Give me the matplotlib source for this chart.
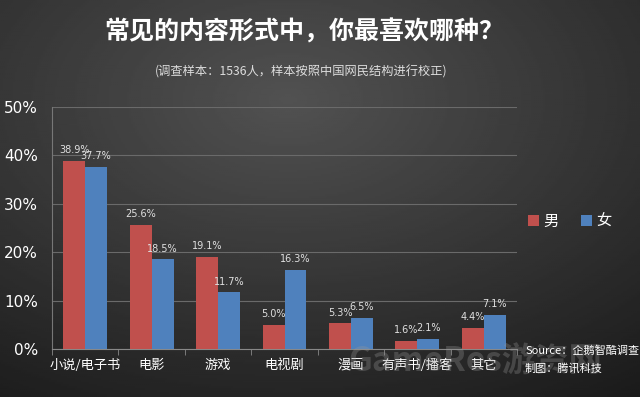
import numpy as np
import matplotlib.pyplot as plt

plt.rcParams['font.family'] = ['Noto Sans CJK SC', 'DejaVu Sans']

categories = ["小说/电子书", "电影", "游戏", "电视剧", "漫画", "有声书/播客", "其它"]
male = [38.9, 25.6, 19.1, 5.0, 5.3, 1.6, 4.4]
female = [37.7, 18.5, 11.7, 16.3, 6.5, 2.1, 7.1]
yticks = [0, 10, 20, 30, 40, 50]

red = "#c0504d"
blue = "#4f81bd"

fig = plt.figure(figsize=(6.4, 3.97), dpi=100)

# dark radial background
bg = fig.add_axes([0, 0, 1, 1])
yy, xx = np.mgrid[0:1:200j, 0:1:320j]
r = np.sqrt(((xx - 0.45) / 0.9) ** 2 + ((yy - 0.25) / 0.9) ** 2)
bg.imshow(0.32 - 0.21 * r, cmap="gray", vmin=0, vmax=1, aspect="auto",
          extent=[0, 1, 1, 0])
bg.set_axis_off()

ax = fig.add_axes([52 / 640, 1 - 349 / 397, (517 - 52) / 640, (349 - 107) / 397])
ax.patch.set_alpha(0)

x = np.arange(len(categories))
w = 0.33
ax.bar(x - w / 2, male, w, color=red, label="男", zorder=3)
ax.bar(x + w / 2, female, w, color=blue, label="女", zorder=3)

for xi, v in zip(x, male):
    ax.text(xi - w / 2, v + 1.2, f"{v:.1f}%", ha="center", va="bottom",
            color="#e0e0e0", fontsize=7, family="DejaVu Sans")
for xi, v in zip(x, female):
    ax.text(xi + w / 2, v + 1.2, f"{v:.1f}%", ha="center", va="bottom",
            color="#e0e0e0", fontsize=7, family="DejaVu Sans")

ax.set_xlim(-0.5, len(categories) - 0.5)
ax.set_ylim(0, 50)
ax.set_yticks(yticks)
ax.set_yticklabels([f"{t}%" for t in yticks], color="white", fontsize=11,
                   family="DejaVu Sans")
ax.set_xticks(x)
ax.set_xticklabels(categories, color="white", fontsize=9.5)
ax.set_xticks(np.arange(len(categories) + 1) - 0.5, minor=True)
ax.tick_params(axis="x", which="major", length=0, pad=7)
ax.tick_params(axis="x", which="minor", length=4, color="#888888")
ax.tick_params(axis="y", length=0, pad=10)
ax.grid(axis="y", color="#6a6a6a", linewidth=0.8, zorder=0)
for s in ["top", "right"]:
    ax.spines[s].set_visible(False)
ax.spines["left"].set_color("#777777")
ax.spines["bottom"].set_color("#888888")

fig.legend(loc="center", bbox_to_anchor=(570 / 640, 1 - 221 / 397), ncol=2,
           frameon=False, fontsize=11, labelcolor="white", handlelength=0.7,
           handleheight=0.7, handletextpad=0.3, columnspacing=1.5)

fig.text(0.475, 1 - 32 / 397, "常见的内容形式中，你最喜欢哪种？", ha="center",
         va="center", color="white", fontsize=18, fontweight="bold")
fig.text(0.47, 1 - 72 / 397, "(调查样本：1536人，样本按照中国网民结构进行校正)",
         ha="center", va="center", color="#dddddd", fontsize=8.8)

# faint watermark
fig.text(475 / 640, 1 - 362 / 397, "GameRes游资网", ha="center", va="center",
         color="#999999", alpha=0.3, fontsize=24, fontweight="bold")

fig.text(525 / 640, 1 - 351 / 397, "Source：企鹅智酷调查", ha="left",
         va="center", color="white", fontsize=8, style="italic")
fig.text(525 / 640, 1 - 368 / 397, "制图：腾讯科技", ha="left", va="center",
         color="white", fontsize=8, style="italic")

fig.savefig("out.png", dpi=100)
